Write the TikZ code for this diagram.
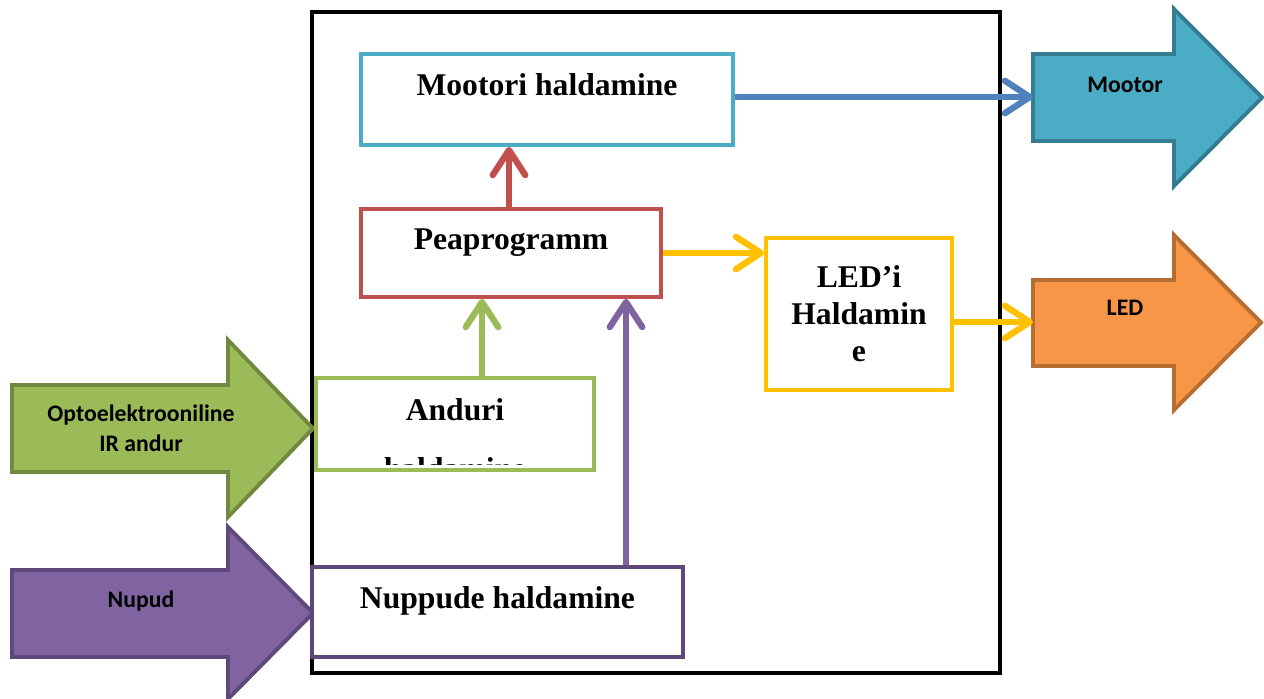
\documentclass[tikz,border=0pt]{standalone}
\usepackage{fontspec}
\setmainfont{Liberation Serif}
\newfontfamily\calibri{Carlito}
\usetikzlibrary{arrows.meta, positioning, calc}
\definecolor{motblue}{RGB}{75,172,198}
\definecolor{motdark}{RGB}{52,124,145}
\definecolor{peared}{RGB}{192,80,77}
\definecolor{ledgold}{RGB}{255,192,0}
\definecolor{ledorange}{RGB}{247,150,70}
\definecolor{leddark}{RGB}{182,109,49}
\definecolor{andgreen}{RGB}{155,187,89}
\definecolor{anddark}{RGB}{113,137,63}
\definecolor{nuppurple}{RGB}{128,100,162}
\definecolor{nupdark}{RGB}{94,73,122}
\definecolor{conblue}{RGB}{79,129,189}
\newcommand{\boxfont}{\fontsize{18}{21}\selectfont\bfseries}

\begin{document}
\begin{tikzpicture}[
        x=0.02cm, y=-0.02cm,
        box/.style={rectangle, draw=#1, line width=2.2pt, fill=white, font=\boxfont, align=center},
        oneline/.style={text height=12pt, text depth=16pt},
        conn/.style={-{Straight Barb[length=5mm, width=6.5mm, round]}, line width=3.6pt, #1},
        bigarrow/.style={draw=#1, line width=2.2pt, line join=miter},
        tag/.style={font=\calibri\fontsize{13.5}{17}\selectfont\bfseries, align=center}
    ]
        \useasboundingbox (0,0) rectangle (1264,699);

        % Outer frame
        \draw[line width=2.4pt] (312,12) rectangle (1000,673);

        % Block arrows
        \draw[bigarrow=motdark, fill=motblue] (1033,54) -- (1174,54) -- (1174,9) -- (1262,97.5) -- (1174,186) -- (1174,141) -- (1033,141) -- cycle;
        \draw[bigarrow=leddark, fill=ledorange] (1033,280) -- (1174,280) -- (1174,235) -- (1261,322.5) -- (1174,410) -- (1174,366) -- (1033,366) -- cycle;
        \draw[bigarrow=anddark, fill=andgreen] (12,385) -- (228,385) -- (228,340) -- (313,428.5) -- (228,517) -- (228,472) -- (12,472) -- cycle;
        \draw[bigarrow=nupdark, fill=nuppurple] (12,570) -- (228,570) -- (228,527) -- (313,613) -- (228,699) -- (228,657) -- (12,657) -- cycle;

        \node[tag] (mootor) at (1125,85) {Mootor};
        \node[tag] (ledtag) at (1125,308) {LED};
        \node[tag] (opto) at (141,428) {Optoelektrooniline\\IR andur};
        \node[tag] (nupud) at (141,601) {Nupud};
        \coordinate (motin) at (1033,97);
        \coordinate (ledin) at (1033,322);

        % Blocks
        \node[box=motblue, oneline, minimum width=7.44cm, minimum height=1.82cm] (mot) at (547,99.5) {Mootori haldamine};
        \node[box=peared, oneline, minimum width=6cm, minimum height=1.76cm] (pea) at (511,253) {Peaprogramm};
        \node[box=ledgold, minimum width=3.72cm, minimum height=3.04cm] (led) at (859,314) {LED’i\\Haldamin\\e};
        \node[box=andgreen, oneline, minimum width=5.56cm, minimum height=1.84cm] (andur) at (455,424) {Anduri};
        \begin{scope}
            \clip (320,382) rectangle (590,464);
            \node[font=\boxfont, anchor=base] (andurrest) at (455,479) {haldamine};
        \end{scope}
        \node[box=nupdark, oneline, minimum width=7.42cm, minimum height=1.8cm] (nup) at (497.5,612) {Nuppude haldamine};

        % Arrows
        \draw[conn=peared] (509,0 |- pea.north) -- (509,0 |- mot.south);
        \draw[conn=andgreen] (482,0 |- andur.north) -- (482,0 |- pea.south);
        \draw[conn=nuppurple] (626,0 |- nup.north) -- (626,0 |- pea.south);
        \draw[conn=conblue] (mot.east |- motin) -- (motin);
        \draw[conn=ledgold] (pea.east) -- (pea.east -| led.west);
        \draw[conn=ledgold] (led.east |- ledin) -- (ledin);
    \end{tikzpicture}
\end{document}
